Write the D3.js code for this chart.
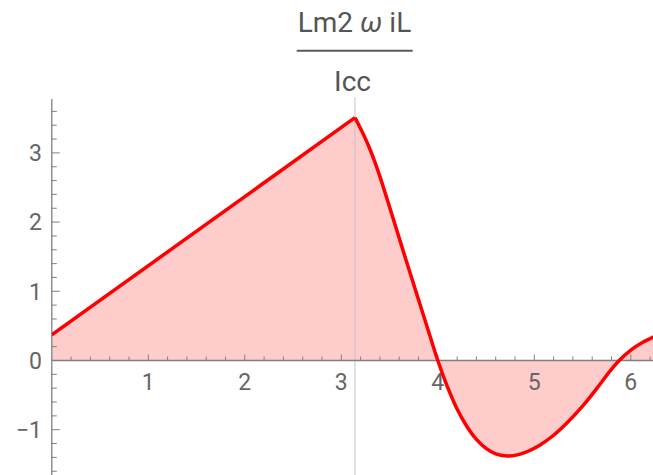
<!DOCTYPE html>
<html>
<head>
<meta charset="utf-8">
<script src="https://cdn.jsdelivr.net/npm/d3@7/dist/d3.min.js"></script>
<style>
  html, body { margin: 0; padding: 0; background: #fff; }
  svg { display: block; font-family: Roboto, "Open Sans", sans-serif; }
</style>
</head>
<body>
<svg id="chart" width="653" height="475"></svg>
<script>
// Ramp on [0, π] followed by a damped swing on [π, 2π]
const rampX = [0, 3.1416];
const rampY = [0.37, 3.51];
const swingX = [3.1416, 3.20, 3.28, 3.383, 3.522, 3.66, 3.80, 3.92, 4.00, 4.10, 4.20, 4.30, 4.40, 4.50, 4.60, 4.74, 4.90, 5.06, 5.20, 5.34, 5.50, 5.65, 5.78, 5.88, 6.00, 6.12, 6.2832];
const swingY = [3.51, 3.35, 3.11, 2.73, 2.12, 1.50, 0.88, 0.35, 0.00, -0.38, -0.70, -0.95, -1.14, -1.27, -1.35, -1.38, -1.33, -1.22, -1.08, -0.90, -0.66, -0.40, -0.16, 0.00, 0.15, 0.26, 0.37];

const xTickLabels = [1, 2, 3, 4, 5, 6];
const yTickLabels = [-1, 0, 1, 2, 3];
const markerX = Math.PI;

const svg = d3.select("#chart");
const x = d3.scaleLinear().domain([0, 2 * Math.PI]).range([51.8, 51.8 + 96.5 * 2 * Math.PI]);
const y = d3.scaleLinear().domain([-1.67, 3.78]).range([360.5 + 1.67 * 69.2, 360.5 - 3.78 * 69.2]);

const ramp = rampX.map((v, i) => [v, rampY[i]]);
const swing = swingX.map((v, i) => [v, swingY[i]]);

svg.append("defs").append("clipPath").attr("id", "plot")
  .append("rect").attr("x", x(0)).attr("y", 0).attr("width", 653).attr("height", 475);

const smooth = d3.curveCatmullRom.alpha(0.5);
const areaLin = d3.area().x(d => x(d[0])).y0(y(0)).y1(d => y(d[1]));
const areaCurve = d3.area().x(d => x(d[0])).y0(y(0)).y1(d => y(d[1])).curve(smooth);
const lineLin = d3.line().x(d => x(d[0])).y(d => y(d[1]));
const lineCurve = d3.line().x(d => x(d[0])).y(d => y(d[1])).curve(smooth);

const g = svg.append("g").attr("clip-path", "url(#plot)");
g.append("path").attr("d", areaLin(ramp)).attr("fill", "#ffcccc");
g.append("path").attr("d", areaCurve(swing)).attr("fill", "#ffcccc");

// vertical marker at x = π
svg.append("line")
  .attr("x1", x(markerX)).attr("x2", x(markerX))
  .attr("y1", 97).attr("y2", 475)
  .attr("stroke", "#c4c4c4").attr("stroke-width", 1);

// axes
const axisColor = "#808080";
const labelColor = "#666";
svg.append("line").attr("x1", x(0)).attr("x2", 653).attr("y1", y(0)).attr("y2", y(0))
  .attr("stroke", axisColor).attr("stroke-width", 1.3);
svg.append("line").attr("x1", x(0)).attr("x2", x(0)).attr("y1", y(3.78)).attr("y2", 475)
  .attr("stroke", axisColor).attr("stroke-width", 1.3);

// x ticks (pointing up)
d3.range(1, 32).map(i => i * 0.2).forEach(v => {
  const major = Math.abs(v - Math.round(v)) < 1e-6;
  svg.append("line").attr("x1", x(v)).attr("x2", x(v))
    .attr("y1", y(0)).attr("y2", y(0) - (major ? 6 : 4))
    .attr("stroke", axisColor).attr("stroke-width", 1);
});
// y ticks (pointing right)
d3.range(-8, 19).map(i => i * 0.2).forEach(v => {
  if (Math.abs(v) < 1e-6) return;
  const major = Math.abs(v - Math.round(v)) < 1e-6;
  svg.append("line").attr("x1", x(0)).attr("x2", x(0) + (major ? 8 : 5))
    .attr("y1", y(v)).attr("y2", y(v))
    .attr("stroke", axisColor).attr("stroke-width", 1);
});

svg.append("g").selectAll("text").data(xTickLabels).join("text")
  .attr("x", d => x(d)).attr("y", 390)
  .attr("text-anchor", "middle").attr("font-size", 23).attr("fill", labelColor)
  .text(d => d);
svg.append("g").selectAll("text").data(yTickLabels).join("text")
  .attr("x", 42).attr("y", d => y(d) + 8.3)
  .attr("text-anchor", "end").attr("font-size", 23).attr("fill", labelColor)
  .text(d => d < 0 ? "\u2212" + Math.abs(d) : d);

// curve
const lg = svg.append("g").attr("clip-path", "url(#plot)");
lg.append("path").attr("d", lineLin(ramp)).attr("fill", "none")
  .attr("stroke", "#ff0000").attr("stroke-width", 3.5);
lg.append("path").attr("d", lineCurve(swing)).attr("fill", "none")
  .attr("stroke", "#ff0000").attr("stroke-width", 3.5).attr("stroke-linejoin", "round");

// plot label: fraction
const title = svg.append("g").attr("fill", "#555").attr("font-size", 28);
const num = title.append("text").attr("x", 354.5).attr("y", 32).attr("text-anchor", "middle");
num.append("tspan").text("Lm2 ");
num.append("tspan").attr("font-style", "italic").text("\u03c9");
num.append("tspan").text(" iL");
title.append("line").attr("x1", 296.7).attr("x2", 412.7).attr("y1", 50.7).attr("y2", 50.7)
  .attr("stroke", "#5a5a5a").attr("stroke-width", 2);
title.append("text").attr("x", 352.5).attr("y", 91).attr("text-anchor", "middle").text("Icc");
</script>
</body>
</html>
